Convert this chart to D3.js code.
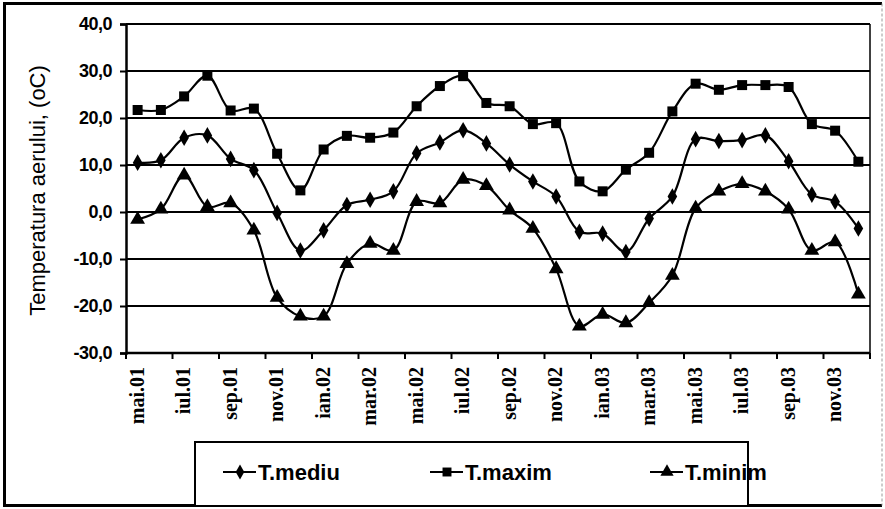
<!DOCTYPE html>
<html>
<head>
<meta charset="utf-8">
<script src="https://cdn.jsdelivr.net/npm/d3@7"></script>
<style>
  html, body { margin: 0; padding: 0; background: #fff; }
  svg { display: block; }
</style>
</head>
<body>
<svg id="chart" width="885" height="509"></svg>
<script>
// ---- data ----
const months = ["mai.01","iun.01","iul.01","aug.01","sep.01","oct.01","nov.01","dec.01",
  "ian.02","feb.02","mar.02","apr.02","mai.02","iun.02","iul.02","aug.02","sep.02","oct.02","nov.02","dec.02",
  "ian.03","feb.03","mar.03","apr.03","mai.03","iun.03","iul.03","aug.03","sep.03","oct.03","nov.03","dec.03"];
const tMediu = [10.5, 11.0, 15.8, 16.3, 11.3, 8.9, -0.2, -8.2, -3.9, 1.5, 2.6, 4.4,
  12.5, 14.8, 17.4, 14.6, 10.1, 6.5, 3.3, -4.2, -4.6, -8.5, -1.4, 3.3,
  15.5, 15.1, 15.3, 16.3, 10.8, 3.7, 2.2, -3.5];
const tMaxim = [21.7, 21.7, 24.6, 29.0, 21.6, 22.0, 12.4, 4.6, 13.3, 16.2, 15.8, 16.9,
  22.5, 26.8, 28.9, 23.2, 22.5, 18.7, 18.9, 6.5, 4.4, 9.0, 12.6, 21.4,
  27.3, 26.0, 27.0, 27.0, 26.6, 18.7, 17.3, 10.7];
const tMinim = [-1.6, 0.6, 7.8, 1.1, 1.9, -3.9, -18.2, -22.2, -22.2, -11.0, -6.7, -8.2,
  2.2, 1.9, 6.9, 5.6, 0.4, -3.5, -12.1, -24.3, -21.8, -23.6, -19.3, -13.5,
  0.8, 4.4, 6.0, 4.4, 0.6, -8.2, -6.4, -17.5];
const yTicks = [-30, -20, -10, 0, 10, 20, 30, 40];
const seriesNames = ["T.mediu", "T.maxim", "T.minim"];

// ---- layout ----
const svg = d3.select("#chart");
const plot = { left: 126, right: 870, top: 24, bottom: 353 };

const x = d3.scaleBand().domain(months).range([plot.left, plot.right]).padding(0);
const y = d3.scaleLinear().domain([-30, 40]).range([plot.bottom, plot.top]);
const fmt = v => d3.format(".1f")(v).replace(".", ",").replace("−", "-");

// outer border
svg.append("path").attr("d", "M882,3.5 L4.5,3.5 L4.5,505.5 L882,505.5")
  .attr("fill", "none").attr("stroke", "#000").attr("stroke-width", 3);
svg.append("line").attr("x1", 882).attr("x2", 882).attr("y1", 3.5).attr("y2", 505.5)
  .attr("stroke", "#999").attr("stroke-width", 1).attr("stroke-dasharray", "3,2");

// gridlines
svg.append("g").selectAll("line").data(yTicks.filter(d => d > -30)).join("line")
  .attr("x1", plot.left).attr("x2", plot.right)
  .attr("y1", d => y(d)).attr("y2", d => y(d))
  .attr("stroke", "#000").attr("stroke-width", 2.2);

// right plot border
svg.append("line").attr("x1", plot.right).attr("x2", plot.right)
  .attr("y1", plot.top).attr("y2", plot.bottom)
  .attr("stroke", "#000").attr("stroke-width", 1.5);

// y axis
const yAxis = d3.axisLeft(y).tickValues(yTicks).tickSize(6).tickPadding(8).tickFormat(fmt);
const gy = svg.append("g").attr("transform", `translate(${plot.left},0)`).call(yAxis);
gy.select(".domain").attr("stroke-width", 2.5);
gy.selectAll(".tick line").attr("stroke-width", 2);
gy.selectAll("text").attr("font-family", "Liberation Sans, Arial, sans-serif")
  .attr("font-weight", "bold").attr("font-size", 18).attr("fill", "#000")
  .attr("letter-spacing", "-0.5px");

// x axis
const gx = svg.append("g").attr("transform", `translate(0,${plot.bottom})`);
gx.append("line").attr("x1", plot.left).attr("x2", plot.right)
  .attr("stroke", "#000").attr("stroke-width", 2.5);
const tickIdx = d3.range(0, months.length + 1, 2);
gx.selectAll("line.tk").data(tickIdx).join("line").attr("class", "tk")
  .attr("x1", i => plot.left + i * x.bandwidth()).attr("x2", i => plot.left + i * x.bandwidth())
  .attr("y1", 0).attr("y2", 6).attr("stroke", "#000").attr("stroke-width", 2);
gx.selectAll("text").data(months.filter((m, i) => i % 2 === 0)).join("text")
  .attr("transform", d => `translate(${x(d) + x.bandwidth() / 2 + 6},${14}) rotate(-90)`)
  .attr("text-anchor", "end")
  .attr("font-family", "Liberation Serif, Times New Roman, serif")
  .attr("font-weight", "bold").attr("font-size", 20).attr("fill", "#000")
  .text(d => d);

// y axis title
svg.append("text")
  .attr("transform", `translate(45,${(plot.top + plot.bottom) / 2 + 2}) rotate(-90)`)
  .attr("text-anchor", "middle")
  .attr("font-family", "Liberation Sans, Arial, sans-serif")
  .attr("font-size", 22).attr("fill", "#000")
  .text("Temperatura aerului, (oC)");

// series
const cx = i => x(months[i]) + x.bandwidth() / 2;
const line = d3.line().x((d, i) => cx(i)).y(d => y(d)).curve(d3.curveCatmullRom.alpha(0.5));
const data = [tMediu, tMaxim, tMinim];
const symbols = [d3.symbolDiamond, d3.symbolSquare, d3.symbolTriangle];
const symSizes = [80, 100, 95];

data.forEach((vals, k) => {
  svg.append("path").datum(vals).attr("d", line)
    .attr("fill", "none").attr("stroke", "#000").attr("stroke-width", 2.2);
  svg.append("g").selectAll("path").data(vals).join("path")
    .attr("transform", (d, i) => `translate(${cx(i)},${y(d)})`)
    .attr("d", d3.symbol().type(symbols[k]).size(symSizes[k]))
    .attr("fill", "#000");
});

// legend
const leg = svg.append("g");
leg.append("rect").attr("x", 195).attr("y", 442).attr("width", 553).attr("height", 64)
  .attr("fill", "#fff").attr("stroke", "#000").attr("stroke-width", 2);
const legX = [223, 430, 650];
const legY = 472;
seriesNames.forEach((name, k) => {
  leg.append("line").attr("x1", legX[k]).attr("x2", legX[k] + 33)
    .attr("y1", legY).attr("y2", legY).attr("stroke", "#000").attr("stroke-width", 2.2);
  leg.append("path").attr("transform", `translate(${legX[k] + 17},${legY})`)
    .attr("d", d3.symbol().type(symbols[k]).size(symSizes[k] * 0.8)).attr("fill", "#000");
  leg.append("text").attr("x", legX[k] + 35).attr("y", legY + 8)
    .attr("font-family", "Liberation Sans, Arial, sans-serif")
    .attr("font-weight", "bold").attr("font-size", 22).attr("fill", "#000")
    .text(name);
});
</script>
</body>
</html>
